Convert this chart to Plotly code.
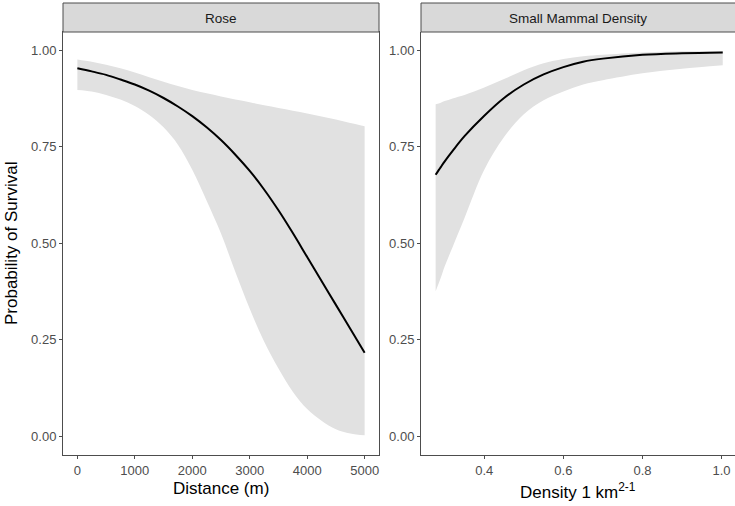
import plotly.graph_objects as go

# ---------------- data ----------------
# Panel 1: Rose (distance, m)
rose_x = [0, 250, 500, 750, 1000, 1250, 1500, 1750, 2000, 2250, 2500,
          2750, 3000, 3250, 3500, 3750, 4000, 4250, 4500, 4750, 5000]
rose_fit = [0.953, 0.945, 0.936, 0.924, 0.911, 0.895, 0.876, 0.854, 0.829, 0.800, 0.767,
            0.729, 0.687, 0.639, 0.585, 0.526, 0.464, 0.402, 0.340, 0.278, 0.216]
rose_hi = [0.976, 0.970, 0.962, 0.953, 0.942, 0.930, 0.918, 0.907, 0.897, 0.888, 0.880,
           0.872, 0.865, 0.857, 0.850, 0.843, 0.836, 0.828, 0.820, 0.811, 0.803]
rose_lo = [0.897, 0.893, 0.884, 0.872, 0.855, 0.832, 0.800, 0.755, 0.690, 0.610, 0.525,
           0.425, 0.330, 0.245, 0.175, 0.115, 0.070, 0.040, 0.018, 0.007, 0.002]

# Panel 2: Small Mammal Density
dens_x = [0.277, 0.29, 0.30, 0.32, 0.35, 0.40, 0.45, 0.50, 0.55, 0.60, 0.65,
          0.70, 0.80, 0.90, 1.003]
dens_fit = [0.677, 0.697, 0.712, 0.739, 0.777, 0.830, 0.876, 0.911, 0.937, 0.956, 0.970,
            0.978, 0.988, 0.992, 0.994]
dens_hi = [0.860, 0.864, 0.868, 0.875, 0.884, 0.903, 0.925, 0.948, 0.966, 0.977, 0.984,
           0.988, 0.994, 0.997, 0.998]
dens_lo = [0.375, 0.410, 0.440, 0.490, 0.565, 0.690, 0.775, 0.834, 0.870, 0.893, 0.911,
           0.922, 0.940, 0.952, 0.961]

panel_titles = ["Rose", "Small Mammal Density"]
y_ticks = [0, 0.25, 0.5, 0.75, 1.0]
y_ticklabels = ["0.00", "0.25", "0.50", "0.75", "1.00"]
x1_ticks = [0, 1000, 2000, 3000, 4000, 5000]
x2_ticks = [0.4, 0.6, 0.8, 1.0]
x2_ticklabels = ["0.4", "0.6", "0.8", "1.0"]

# ---------------- figure ----------------
W, H = 735, 506
FONT = "Liberation Sans, Arial, Helvetica, sans-serif"
BAND = "#E1E1E1"
BORDER = "#4D4D4D"

fig = go.Figure()

def add_panel(x, lo, hi, fit, xa, ya):
    fig.add_trace(go.Scatter(x=x, y=lo, mode="lines", line=dict(width=0, shape="spline"),
                             xaxis=xa, yaxis=ya, showlegend=False, hoverinfo="skip"))
    fig.add_trace(go.Scatter(x=x, y=hi, mode="lines", line=dict(width=0, shape="spline"),
                             fill="tonexty", fillcolor=BAND,
                             xaxis=xa, yaxis=ya, showlegend=False, hoverinfo="skip"))
    fig.add_trace(go.Scatter(x=x, y=fit, mode="lines",
                             line=dict(color="black", width=2, shape="spline"),
                             xaxis=xa, yaxis=ya, showlegend=False))

add_panel(rose_x, rose_lo, rose_hi, rose_fit, "x", "y")
add_panel(dens_x, dens_lo, dens_hi, dens_fit, "x2", "y2")

def px_x(p):
    return p / W

def px_y(p):
    return 1 - p / H

ydom = [px_y(455), px_y(32)]
x1dom = [px_x(63), px_x(379)]
x2dom = [px_x(421), 1.0]

tickfont = dict(family=FONT, size=13, color="#4D4D4D")
common_ax = dict(showgrid=False, zeroline=False, ticks="outside", ticklen=3,
                 tickcolor=BORDER, tickwidth=1, tickfont=tickfont,
                 showline=True, linecolor=BORDER, linewidth=1)

fig.update_layout(
    width=W, height=H, autosize=False,
    margin=dict(l=0, r=0, t=0, b=0),
    plot_bgcolor="white", paper_bgcolor="white",
    font=dict(family=FONT),
    xaxis=dict(domain=x1dom, range=[-250, 5250], tickvals=x1_ticks,
               ticktext=[str(v) for v in x1_ticks], anchor="y", mirror=True, **common_ax),
    yaxis=dict(domain=ydom, range=[-0.049, 1.047], tickvals=y_ticks,
               ticktext=y_ticklabels, anchor="x", mirror=True, **common_ax),
    xaxis2=dict(domain=x2dom, range=[0.240, 1.034], tickvals=x2_ticks,
                ticktext=x2_ticklabels, anchor="y2", **common_ax),
    yaxis2=dict(domain=ydom, range=[-0.049, 1.047], tickvals=y_ticks,
                ticktext=y_ticklabels, anchor="x2", **common_ax),
)

# strips
for xr, title, xd in [("x domain", panel_titles[0], x1dom), ("x2 domain", panel_titles[1], x2dom)]:
    fig.add_shape(type="rect", xref=xr, yref="paper", x0=0, x1=1 if xr == "x domain" else 1.01,
                  y0=px_y(32), y1=px_y(3), fillcolor="#D9D9D9",
                  line=dict(color=BORDER, width=1), layer="above")
    fig.add_annotation(x=(xd[0] + xd[1]) / 2 if xr == "x domain" else px_x(578),
                       y=px_y(18), xref="paper", yref="paper",
                       text=title, showarrow=False,
                       font=dict(family=FONT, size=13.5, color="#1A1A1A"),
                       xanchor="center", yanchor="middle")

# axis titles
fig.add_annotation(x=px_x(221), y=px_y(488), xref="paper", yref="paper",
                   text="Distance (m)", showarrow=False,
                   font=dict(family=FONT, size=17, color="black"),
                   xanchor="center", yanchor="middle")
fig.add_annotation(x=px_x(578), y=px_y(491), xref="paper", yref="paper",
                   text="Density 1 km<sup>2-1</sup>", showarrow=False,
                   font=dict(family=FONT, size=17, color="black"),
                   xanchor="center", yanchor="middle")
fig.add_annotation(x=px_x(11), y=px_y(244), xref="paper", yref="paper",
                   text="Probability of Survival", showarrow=False, textangle=-90,
                   font=dict(family=FONT, size=17, color="black"),
                   xanchor="center", yanchor="middle")

fig.write_html("out.html")
